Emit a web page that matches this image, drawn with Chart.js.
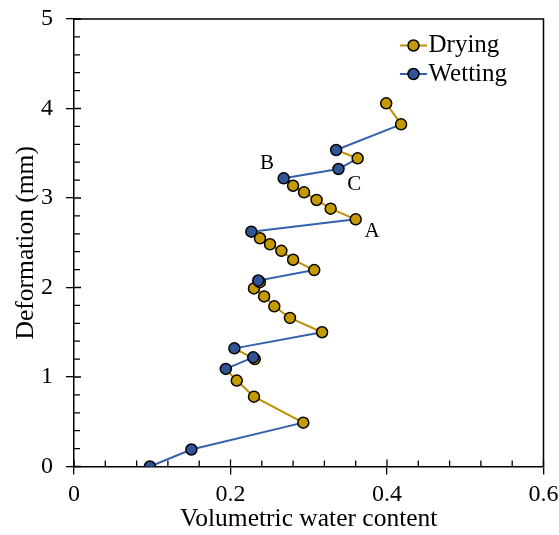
<!DOCTYPE html>
<html>
<head>
<meta charset="utf-8">
<script src="https://cdn.jsdelivr.net/npm/chart.js@4.4.1/dist/chart.umd.min.js"></script>
<style>
  html, body { margin: 0; padding: 0; background: #ffffff; }
  #wrap { width: 559px; height: 535px; }
</style>
</head>
<body>
<div id="wrap"><canvas id="c" width="559" height="535"></canvas></div>
<script>
// ---- data (in test order) ----
const waterContent = [0.097, 0.150, 0.293, 0.230, 0.208, 0.194, 0.229, 0.231, 0.205, 0.317,
                      0.276, 0.256, 0.243, 0.230, 0.2375, 0.2355, 0.307, 0.280, 0.265, 0.2505,
                      0.2377, 0.2266, 0.360, 0.328, 0.310, 0.294, 0.280, 0.268, 0.338, 0.3625,
                      0.335, 0.418, 0.399];
const deformation  = [0.000, 0.190, 0.490, 0.780, 0.960, 1.090, 1.220, 1.200, 1.320, 1.500,
                      1.660, 1.790, 1.900, 1.990, 2.060, 2.078, 2.195, 2.310, 2.410, 2.483,
                      2.550, 2.624, 2.762, 2.881, 2.978, 3.063, 3.137, 3.220, 3.324, 3.443,
                      3.536, 3.823, 4.058];
// phase of each measured point: D = drying, W = wetting
const pointPhase   = ['W','W','D','D','D','W','W','D','W','D',
                      'D','D','D','D','D','W','D','D','D','D',
                      'D','W','D','D','D','D','D','W','W','D',
                      'W','D','D'];
// phase of each connecting segment (point i -> point i+1)
const segmentPhase = ['W','W','D','D','D','W','D','D','W','D',
                      'D','D','D','D','W','W','D','D','D','D',
                      'D','W','D','D','D','D','D','W','W','D',
                      'W','D'];
const seriesNames  = ['Drying', 'Wetting'];
const xTickValues  = [0, 0.2, 0.4, 0.6];
const yTickValues  = [0, 1, 2, 3, 4, 5];
const labelText    = ['A', 'B', 'C'];
const labelX       = [0.381, 0.2466, 0.358];
const labelY       = [2.63, 3.39, 3.156];

// ---- styles ----
const GOLD_FILL = '#C49A00';
const GOLD_LINE = '#BF9000';
const BLUE_FILL = '#2F5597';
const BLUE_LINE = '#3462AA';
const FONT = 'Liberation Serif';

const pathPoints = waterContent.map((x, i) => ({ x: x, y: deformation[i] }));
const dryPoints = pathPoints.filter((p, i) => pointPhase[i] === 'D');
const wetPoints = pathPoints.filter((p, i) => pointPhase[i] === 'W');

const framePlugin = {
  id: 'frame',
  afterDraw(chart) {
    const ctx = chart.ctx;
    const a = chart.chartArea;
    const xs = chart.scales.x, ys = chart.scales.y;
    ctx.save();
    ctx.strokeStyle = '#000';
    ctx.lineWidth = 1.5;
    // top and right border
    ctx.beginPath();
    ctx.moveTo(a.left, a.top);
    ctx.lineTo(a.right, a.top);
    ctx.lineTo(a.right, a.bottom);
    ctx.stroke();
    // inward tick marks
    ctx.lineWidth = 1.3;
    ctx.beginPath();
    for (let k = 0; k <= 25; k++) {
      const py = ys.getPixelForValue(k * 0.2);
      const len = (k % 5 === 0) ? 7 : 6;
      ctx.moveTo(a.left, py); ctx.lineTo(a.left + len, py);
    }
    for (let k = 0; k <= 15; k++) {
      const px = xs.getPixelForValue(k * 0.04);
      const len = (k % 5 === 0) ? 7 : 6;
      ctx.moveTo(px, a.bottom); ctx.lineTo(px, a.bottom - len);
    }
    ctx.stroke();
    // point labels A, B, C
    ctx.fillStyle = '#000';
    ctx.font = '21px "' + FONT + '"';
    ctx.textAlign = 'center';
    ctx.textBaseline = 'middle';
    labelText.forEach((t, i) => {
      ctx.fillText(t, xs.getPixelForValue(labelX[i]), ys.getPixelForValue(labelY[i]));
    });
    // legend
    const entries = [
      { name: chart.data.datasets[1].label, line: GOLD_LINE, fill: GOLD_FILL, y: 45.5 },
      { name: chart.data.datasets[2].label, line: BLUE_LINE, fill: BLUE_FILL, y: 74 }
    ];
    entries.forEach(e => {
      ctx.strokeStyle = e.line;
      ctx.lineWidth = 2;
      ctx.beginPath();
      ctx.moveTo(400, e.y); ctx.lineTo(427, e.y);
      ctx.stroke();
      ctx.beginPath();
      ctx.arc(413.5, e.y, 5.5, 0, Math.PI * 2);
      ctx.fillStyle = e.fill;
      ctx.fill();
      ctx.strokeStyle = '#000';
      ctx.lineWidth = 1.5;
      ctx.stroke();
      ctx.fillStyle = '#000';
      ctx.font = '25px "' + FONT + '"';
      ctx.textAlign = 'left';
      ctx.textBaseline = 'middle';
      ctx.fillText(e.name, 428.5, e.y);
    });
    ctx.restore();
  }
};

const axisCommon = {
  type: 'linear',
  grid: { drawOnChartArea: false, drawTicks: true, tickLength: 8, color: '#000', lineWidth: 1.3 },
  border: { display: true, color: '#000', width: 1.5 },
};

function zeroPadding(s) {
  s.paddingTop = 0; s.paddingBottom = 0; s.paddingLeft = 0; s.paddingRight = 0;
}

new Chart(document.getElementById('c'), {
  type: 'scatter',
  data: {
    datasets: [
      {
        label: 'path',
        data: pathPoints,
        showLine: true,
        pointRadius: 0,
        borderWidth: 2,
        borderColor: BLUE_LINE,
        tension: 0,
        segment: {
          borderColor: c => segmentPhase[c.p0DataIndex] === 'D' ? GOLD_LINE : BLUE_LINE
        },
        order: 2
      },
      {
        label: seriesNames[0],
        data: dryPoints,
        showLine: false,
        pointRadius: 5.5,
        pointBackgroundColor: GOLD_FILL,
        pointBorderColor: '#000',
        pointBorderWidth: 1.5,
        order: 1
      },
      {
        label: seriesNames[1],
        data: wetPoints,
        showLine: false,
        pointRadius: 5.5,
        pointBackgroundColor: BLUE_FILL,
        pointBorderColor: '#000',
        pointBorderWidth: 1.5,
        order: 0
      }
    ]
  },
  options: {
    responsive: false,
    animation: false,
    events: [],
    devicePixelRatio: 1,
    layout: { padding: { top: 19, right: 15.5, bottom: 0, left: 0 } },
    plugins: { legend: { display: false }, tooltip: { enabled: false } },
    scales: {
      x: Object.assign({}, axisCommon, {
        position: 'bottom',
        min: 0, max: 0.6,
        afterBuildTicks: s => { s.ticks = xTickValues.map(v => ({ value: v })); },
        afterFit: s => { s.height = 68.5; zeroPadding(s); },
        ticks: { font: { family: FONT, size: 24 }, color: '#000', padding: 6, maxRotation: 0, autoSkip: false,
                 callback: v => String(v) },
        title: { display: true, text: 'Volumetric water content', color: '#000',
                 font: { family: FONT, size: 25.5 }, padding: { top: 0, bottom: 0 } }
      }),
      y: Object.assign({}, axisCommon, {
        position: 'left',
        min: 0, max: 5,
        afterBuildTicks: s => { s.ticks = yTickValues.map(v => ({ value: v })); },
        afterFit: s => { s.width = 74; zeroPadding(s); },
        ticks: { font: { family: FONT, size: 24 }, color: '#000', padding: 13, autoSkip: false,
                 callback: v => String(v) },
        title: { display: true, text: 'Deformation (mm)', color: '#000',
                 font: { family: FONT, size: 25.5 }, padding: { top: 11, bottom: 0 } }
      })
    }
  },
  plugins: [framePlugin]
});
</script>
</body>
</html>
